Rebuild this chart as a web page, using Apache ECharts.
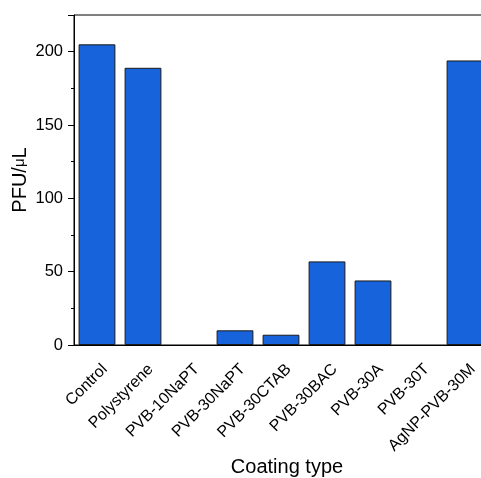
<!DOCTYPE html>
<html>
<head>
<meta charset="utf-8">
<script src="https://cdn.jsdelivr.net/npm/echarts@6/dist/echarts.min.js"></script>
<style>
html,body{margin:0;padding:0;background:#fff;overflow:hidden;width:481px;height:478px;}
#chart{width:495px;height:478px;}
</style>
</head>
<body>
<div id="chart"></div>
<script>
// Plaque counts per coating
const categories = ['Control', 'Polystyrene', 'PVB-10NaPT', 'PVB-30NaPT', 'PVB-30CTAB', 'PVB-30BAC', 'PVB-30A', 'PVB-30T', 'AgNP-PVB-30M'];
const pfuValues = [205, 189, 0, 10, 7, 57, 44, 0, 194];
const yTicks = [0, 50, 100, 150, 200];

const font = 'Liberation Sans, Arial, sans-serif';
const chart = echarts.init(document.getElementById('chart'));

// zero-height bars get no outline
const barData = pfuValues.map(v => v === 0 ? { value: v, itemStyle: { borderWidth: 0 } } : v);

chart.setOption({
  animation: false,
  grid: {
    left: 74, right: 7, top: 15, bottom: 133,
    outerBoundsMode: 'none', containLabel: false,
    show: true, borderColor: '#000', borderWidth: 1, backgroundColor: 'transparent'
  },
  xAxis: [
    {
      type: 'category',
      data: categories,
      name: 'Coating type',
      nameLocation: 'middle',
      nameGap: 112,
      nameMoveOverlap: false,
      nameTextStyle: { fontFamily: font, fontSize: 20, color: '#000', padding: [0, 0, 0, 12] },
      axisLine: { lineStyle: { color: '#000', width: 1 } },
      axisTick: { alignWithLabel: true, length: 6, lineStyle: { color: '#000' } },
      axisLabel: {
        rotate: 45, fontFamily: font, fontSize: 16, color: '#000', margin: 14, lineHeight: 22, interval: 0,
        // leading blank line drops each slanted label slightly below its tick
        formatter: v => '\n' + v
      }
    },
    {
      // short ticks on category boundaries
      type: 'category',
      data: categories,
      position: 'bottom',
      axisLine: { show: false },
      axisTick: { length: 3, lineStyle: { color: '#000' } },
      axisLabel: { show: false }
    }
  ],
  yAxis: {
    type: 'value',
    min: 0,
    max: 225,
    interval: 50,
    name: 'PFU/{m|μ}L',
    nameLocation: 'middle',
    nameGap: 44,
    nameMoveOverlap: false,
    nameTextStyle: { fontFamily: font, fontSize: 20, color: '#000', rich: { m: { fontFamily: font, fontSize: 15, color: '#000' } } },
    axisLine: { show: true, lineStyle: { color: '#000', width: 1 } },
    axisTick: { show: true, length: 6, lineStyle: { color: '#000' } },
    minorTick: { show: true, splitNumber: 2, length: 3, lineStyle: { color: '#000' } },
    splitLine: { show: false },
    axisLabel: {
      fontFamily: font, fontSize: 16.5, color: '#000', margin: 11,
      formatter: v => (yTicks.includes(v) ? String(v) : '')
    }
  },
  series: [{
    type: 'bar',
    data: barData,
    barCategoryGap: '20%',
    itemStyle: { color: '#1763DB', borderColor: '#1a1a1a', borderWidth: 1 }
  }]
});
</script>
</body>
</html>
